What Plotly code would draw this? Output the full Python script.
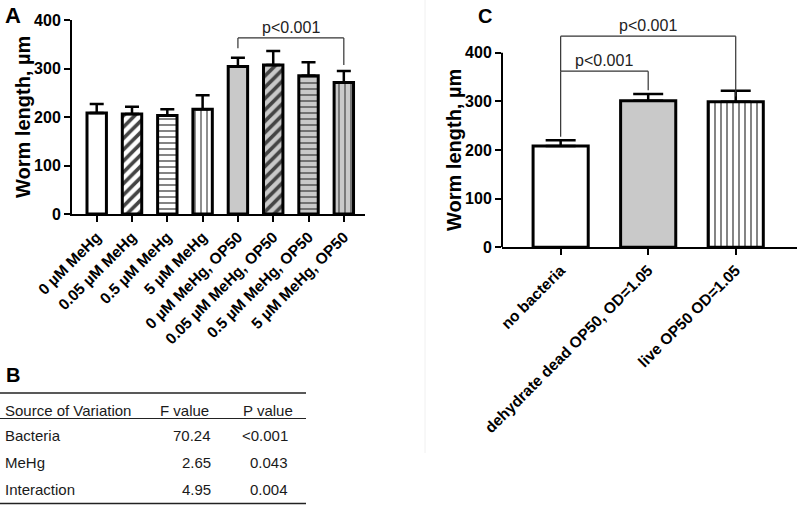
import plotly.graph_objects as go

# ---------------- data ----------------
a_categories = ["0 µM MeHg", "0.05 µM MeHg", "0.5 µM MeHg", "5 µM MeHg",
                "0 µM MeHg, OP50", "0.05 µM MeHg, OP50", "0.5 µM MeHg, OP50", "5 µM MeHg, OP50"]
a_means = [208, 206, 203, 216, 304, 307, 285, 271]
a_errors = [19, 15, 13, 29, 18, 29, 28, 24]

c_categories = ["no bacteria", "dehydrate dead OP50, OD=1.05", "live OP50 OD=1.05"]
c_means = [208, 301, 299]
c_errors = [12, 14, 23]

y_ticks = [0, 100, 200, 300, 400]

table_header = ["Source of Variation", "F value", "P value"]
table_source = ["Bacteria", "MeHg", "Interaction"]
table_f = ["70.24", "2.65", "4.95"]
table_p = ["<0.001", "0.043", "0.004"]

# brackets: (x_left, x_right, y_top, y_left_end, y_right_end, label)
a_brackets = [(4, 7, 363, 342, 307, "p<0.001")]
c_brackets = [(0, 2, 434, 362, 310, "p<0.001"), (0, 1, 362, 227, 323, "p<0.001")]

# ---------------- styling ----------------
W, H = 800, 507
FONT = "Liberation Sans, Arial, Helvetica, sans-serif"
GREY = "#c9c9c9"

def ppx(p):
    return p / W

def ppy(p):
    return 1 - p / H

a_colors = ["white"] * 4 + [GREY] * 4
a_shapes = ["", "/", "-", "|", "", "/", "-", "|"]
a_solid = [0.3, 0.45, 0.22, 0.2, 0.3, 0.45, 0.22, 0.2]
a_size = [6, 8, 6, 6, 6, 8, 6, 6]

c_colors = ["white", GREY, "white"]
c_shapes = ["", "", "|"]
c_solid = [0.3, 0.3, 0.22]
c_size = [6, 6, 6]

fig = go.Figure()

fig.add_trace(go.Bar(
    x=a_categories, y=a_means, xaxis="x", yaxis="y", width=0.55,
    marker=dict(color=a_colors, line=dict(color="black", width=3),
                pattern=dict(shape=a_shapes, fgcolor="black", fgopacity=1, solidity=a_solid,
                             size=a_size, fillmode="overlay")),
    error_y=dict(type="data", symmetric=False, array=a_errors, arrayminus=[0] * len(a_errors),
                 color="black", thickness=2.5, width=7),
    showlegend=False, hoverinfo="skip",
))

fig.add_trace(go.Bar(
    x=c_categories, y=c_means, xaxis="x2", yaxis="y2", width=0.63,
    marker=dict(color=c_colors, line=dict(color="black", width=3),
                pattern=dict(shape=c_shapes, fgcolor="black", fgopacity=1, solidity=c_solid,
                             size=c_size, fillmode="overlay")),
    error_y=dict(type="data", symmetric=False, array=c_errors, arrayminus=[0] * len(c_errors),
                 color="black", thickness=2.5, width=15),
    showlegend=False, hoverinfo="skip",
))

shapes = []
annotations = []

# bracket drawing
def add_brackets(brackets, cats, xref, yref):
    for (xl, xr, yt, yle, yre, lab) in brackets:
        for (x0, y0, x1, y1) in [(cats[xl], yle, cats[xl], yt), (cats[xl], yt, cats[xr], yt),
                                 (cats[xr], yt, cats[xr], yre)]:
            shapes.append(dict(type="line", xref=xref, yref=yref, x0=x0, y0=y0, x1=x1, y1=y1,
                               line=dict(color="#333333", width=1.2)))
        annotations.append(dict(xref=xref, yref=yref, x=(xl + xr) / 2, y=yt, text=lab,
                                showarrow=False, yanchor="bottom", xanchor="center",
                                font=dict(family=FONT, size=16, color="#222")))

add_brackets(a_brackets, a_categories, "x", "y")
add_brackets(c_brackets, c_categories, "x2", "y2")

# manual y axis line for panel C (axis range is taller to hold brackets)
shapes.append(dict(type="line", xref="x2 domain", yref="y2", x0=0, x1=0, y0=0, y1=400,
                   line=dict(color="black", width=2)))

# faint panel divider line
shapes.append(dict(type="line", xref="paper", yref="paper", x0=ppx(425), x1=ppx(425),
                   y0=ppy(0), y1=ppy(453), line=dict(color="#f0f0f0", width=1)))

# panel letters
for lab, x, y, xa, size in [("A", 3, 15, "left", 22), ("B", 4, 375, "left", 20), ("C", 485, 16, "center", 20)]:
    annotations.append(dict(xref="paper", yref="paper", x=ppx(x), y=ppy(y), text=lab, showarrow=False,
                            xanchor=xa, yanchor="middle",
                            font=dict(family=FONT, size=size, color="black", weight=700)))

# axis titles
for x, y in [(23, 117), (454, 150)]:
    annotations.append(dict(xref="paper", yref="paper", x=ppx(x), y=ppy(y), text="Worm length, µm",
                            textangle=-90, showarrow=False, xanchor="center", yanchor="middle",
                            font=dict(family=FONT, size=20, color="black", weight=700)))

# ---------------- table B ----------------
tfont = dict(family=FONT, size=15, color="#1a1a1a")
shapes.append(dict(type="line", xref="paper", yref="paper", x0=0, x1=ppx(306), y0=ppy(393), y1=ppy(393),
                   line=dict(color="#222", width=1.5)))
shapes.append(dict(type="line", xref="paper", yref="paper", x0=0, x1=ppx(306), y0=ppy(418.5), y1=ppy(418.5),
                   line=dict(color="#222", width=1.2)))
shapes.append(dict(type="line", xref="paper", yref="paper", x0=0, x1=ppx(306), y0=ppy(503.5), y1=ppy(503.5),
                   line=dict(color="#222", width=1.5)))
annotations.append(dict(xref="paper", yref="paper", x=ppx(3), y=ppy(410), text=table_header[0],
                        showarrow=False, xanchor="left", yanchor="middle", font=tfont))
annotations.append(dict(xref="paper", yref="paper", x=ppx(184), y=ppy(410), text=table_header[1],
                        showarrow=False, xanchor="center", yanchor="middle", font=tfont))
annotations.append(dict(xref="paper", yref="paper", x=ppx(268), y=ppy(410), text=table_header[2],
                        showarrow=False, xanchor="center", yanchor="middle", font=tfont))
row_y = [435, 462, 489]
for i in range(len(table_source)):
    annotations.append(dict(xref="paper", yref="paper", x=ppx(3), y=ppy(row_y[i]), text=table_source[i],
                            showarrow=False, xanchor="left", yanchor="middle", font=tfont))
    annotations.append(dict(xref="paper", yref="paper", x=ppx(213), y=ppy(row_y[i]), text=table_f[i],
                            showarrow=False, xanchor="right", yanchor="middle", font=tfont))
    annotations.append(dict(xref="paper", yref="paper", x=ppx(290), y=ppy(row_y[i]), text=table_p[i],
                            showarrow=False, xanchor="right", yanchor="middle", font=tfont))

tickfont = dict(family=FONT, size=16, color="black", weight=700)
xtickfont = dict(family=FONT, size=15.5, color="black", weight=700)

c_top = (247.3 - 20) / 194.6 * 400

common = dict(showgrid=False, zeroline=False, automargin=False, ticks="outside", ticklen=6,
              tickwidth=2, tickcolor="black")

fig.update_layout(
    template="none",
    width=W, height=H, autosize=False,
    margin=dict(l=0, r=0, t=0, b=0, pad=0),
    paper_bgcolor="white", plot_bgcolor="white",
    showlegend=False,
    xaxis=dict(domain=[ppx(72), ppx(365)], anchor="y", range=[-0.7, 7.6], type="category",
               showline=True, linecolor="black", linewidth=2, tickangle=-45, tickfont=xtickfont, **common),
    yaxis=dict(domain=[ppy(214), ppy(20)], anchor="x", range=[0, 400], tickvals=y_ticks,
               showline=True, linecolor="black", linewidth=2, tickfont=tickfont, **common),
    xaxis2=dict(domain=[ppx(502), ppx(797)], anchor="y2", range=[-0.67, 2.7], type="category",
                showline=True, linecolor="black", linewidth=2, tickangle=-45, tickfont=xtickfont, **common),
    yaxis2=dict(domain=[ppy(247.3), ppy(20)], anchor="x2", range=[0, c_top], tickvals=y_ticks,
                showline=False, tickfont=tickfont, **common),
    shapes=shapes,
    annotations=annotations,
)

fig.write_html("out.html", config={"displayModeBar": False},
               post_script="document.body.style.margin='0';document.body.style.overflow='hidden';")
